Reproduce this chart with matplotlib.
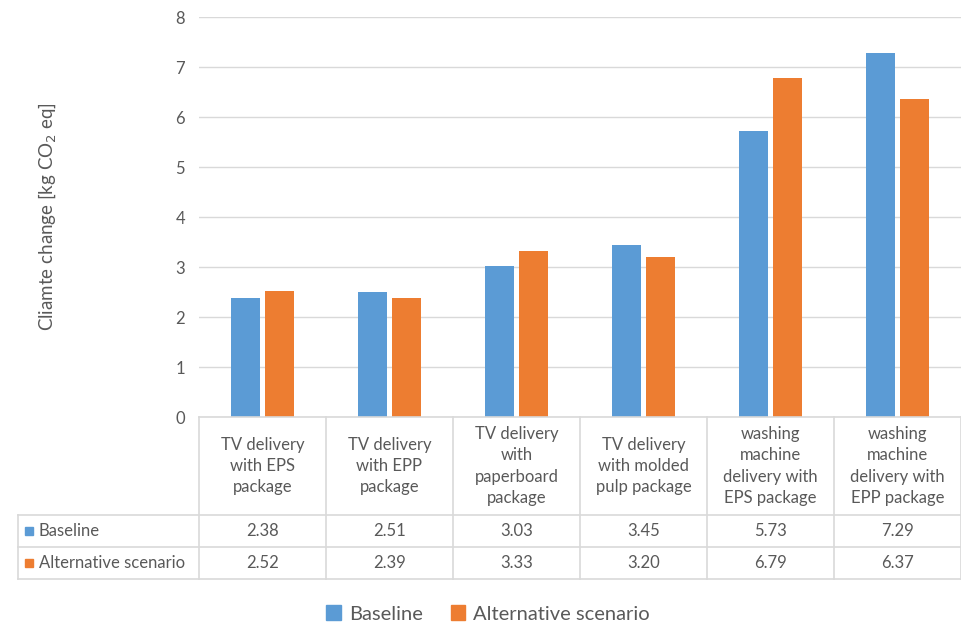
import matplotlib.pyplot as plt
from matplotlib.lines import Line2D
from matplotlib.patches import Rectangle
import numpy as np

categories = ["TV delivery\nwith EPS\npackage",
              "TV delivery\nwith EPP\npackage",
              "TV delivery\nwith\npaperboard\npackage",
              "TV delivery\nwith molded\npulp package",
              "washing\nmachine\ndelivery with\nEPS package",
              "washing\nmachine\ndelivery with\nEPP package"]
baseline = [2.38, 2.51, 3.03, 3.45, 5.73, 7.29]
alternative = [2.52, 2.39, 3.33, 3.20, 6.79, 6.37]
series_names = ["Baseline", "Alternative scenario"]

blue = "#5b9bd5"
orange = "#ed7d31"
grey_txt = "#595959"
grid_c = "#d9d9d9"

plt.rcParams['font.family'] = ['Lato', 'DejaVu Sans']

W, H = 961, 630
fig = plt.figure(figsize=(9.61, 6.3), dpi=100)

def fy(py):
    return 1 - py / H

def fx(px):
    return px / W

fs = 12
x0, x1 = 199, 961
ax = fig.add_axes([fx(x0), fy(417), fx(x1) - fx(x0), fy(17) - fy(417)])

n = len(categories)
x = np.arange(n)
bw = 0.23
ax.bar(x - 0.135, baseline, bw, color=blue, zorder=3)
ax.bar(x + 0.135, alternative, bw, color=orange, zorder=3)
ax.set_xlim(-0.5, n - 0.5)
ax.set_ylim(0, 8)
ax.set_yticks(range(0, 9))
ax.grid(axis='y', color=grid_c, linewidth=1, zorder=0)
for s in ax.spines.values():
    s.set_visible(False)
ax.tick_params(axis='both', length=0, labelsize=fs, colors=grey_txt, pad=10)
ax.set_xticks([])
ax.set_ylabel("Cliamte change [kg CO$_2$ eq]", fontsize=13.5, color=grey_txt)
ax.yaxis.set_label_coords(fx(21) - fx(x0), 0.5)

# data table drawn below the axis
row_y = [417, 515, 547, 579]
col_x = [x0 + (x1 - x0) * i / n for i in range(n + 1)]
tbl_left = 18
lc = dict(color=grid_c, linewidth=1.2)
fig.add_artist(Line2D([fx(x0), fx(x1)], [fy(417), fy(417)], **lc))
for yy in row_y[1:]:
    fig.add_artist(Line2D([fx(tbl_left), fx(x1)], [fy(yy), fy(yy)], **lc))
for xx in col_x:
    fig.add_artist(Line2D([fx(xx), fx(xx)], [fy(417), fy(579)], **lc))
fig.add_artist(Line2D([fx(tbl_left), fx(tbl_left)], [fy(515), fy(579)], **lc))

for i, cat in enumerate(categories):
    cx = (col_x[i] + col_x[i + 1]) / 2
    fig.text(fx(cx), fy(466), cat, ha='center', va='center', fontsize=fs,
             color=grey_txt, linespacing=1.42)
    fig.text(fx(cx), fy(531), "%.2f" % baseline[i], ha='center', va='center',
             fontsize=fs, color=grey_txt)
    fig.text(fx(cx), fy(563), "%.2f" % alternative[i], ha='center', va='center',
             fontsize=fs, color=grey_txt)

for yy, name, c in [(531, series_names[0], blue), (563, series_names[1], orange)]:
    fig.add_artist(Rectangle((fx(25), fy(yy + 4)), fx(8), fy(yy - 4) - fy(yy + 4),
                             color=c, transform=fig.transFigure))
    fig.text(fx(39), fy(yy), name, ha='left', va='center', fontsize=fs, color=grey_txt)

# legend
handles = [Rectangle((0, 0), 1, 1, color=blue), Rectangle((0, 0), 1, 1, color=orange)]
fig.legend(handles, series_names, loc='center', bbox_to_anchor=(fx(488), fy(614)),
           ncol=2, frameon=False, fontsize=14.5, labelcolor=grey_txt,
           handlelength=0.7, handleheight=0.7, handletextpad=0.4, columnspacing=1.4)

fig.savefig("out.png", dpi=100, facecolor='white')
